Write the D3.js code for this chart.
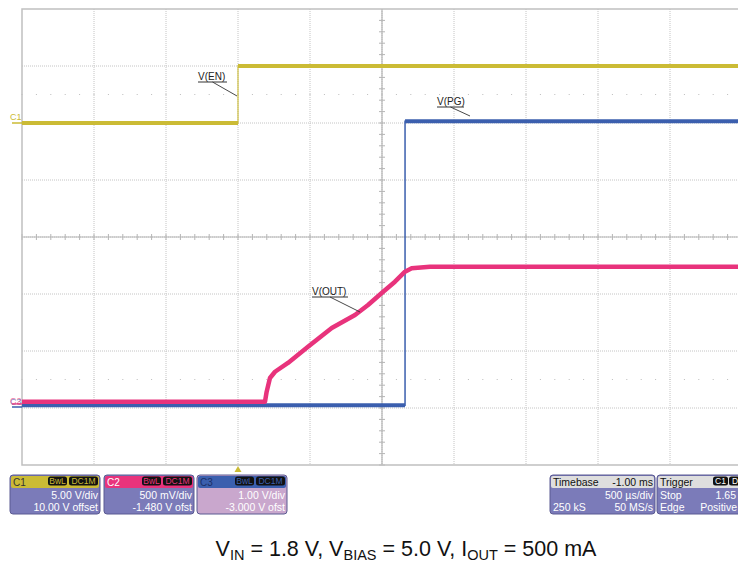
<!DOCTYPE html>
<html>
<head>
<meta charset="utf-8">
<script src="https://cdn.jsdelivr.net/npm/d3@7"></script>
<style>
  html, body { margin: 0; padding: 0; background: #fff; }
  svg { display: block; font-family: "Liberation Sans", Arial, sans-serif; }
</style>
</head>
<body>
<svg id="chart" width="738" height="563"></svg>
<script>
// ---- Data (time in ms, relative to trigger; voltages in V) ----
const enTimes  = [-1.5, 0.0, 0.0, 3.5];
const enVolts  = [0.0, 0.0, 5.0, 5.0];

const pgTimes  = [-1.5, 1.16, 1.16, 3.5];
const pgVolts  = [0.05, 0.05, 5.03, 5.03];

const outTimes = [-1.5, 0.1875, 0.199, 0.222, 0.257, 0.347, 0.486, 0.651, 0.8125, 0.903, 0.998, 1.09, 1.16, 1.206, 1.333, 3.5];
const outVolts = [0.035, 0.035, 0.123, 0.243, 0.298, 0.375, 0.518, 0.682, 0.796, 0.884, 0.989, 1.088, 1.176, 1.205, 1.22, 1.22];

// Channel settings
const channels = [
  { id: "C1", name: "V(EN)",  vdiv: 5.0, offset: 10.0,  color: "#cbbb35", times: enTimes,  volts: enVolts,
    line1: "5.00 V/div", line2: "10.00 V offset" },
  { id: "C2", name: "V(OUT)", vdiv: 0.5, offset: -1.48, color: "#e8337c", times: outTimes, volts: outVolts,
    line1: "500 mV/div", line2: "-1.480 V ofst" },
  { id: "C3", name: "V(PG)",  vdiv: 1.0, offset: -3.0,  color: "#3b5fae", times: pgTimes,  volts: pgVolts,
    line1: "1.00 V/div", line2: "-3.000 V ofst" }
];
const timebaseLines = ["Timebase", "-1.00 ms", "500 µs/div", "250 kS", "50 MS/s"];
const triggerLines  = ["Trigger", "Stop", "1.65", "Edge", "Positive"];

// ---- Layout ----
const svg = d3.select("#chart");
const plot = { left: 22, top: 9, right: 742, bottom: 465 };
const x = d3.scaleLinear().domain([-1.5, 3.5]).range([plot.left, plot.right]);
const yDiv = d3.scaleLinear().domain([-4, 4]).range([plot.bottom, plot.top]);
const toDiv = (ch, v) => (v + ch.offset) / ch.vdiv;

const g = svg.append("g");

// clip
svg.append("defs").append("clipPath").attr("id", "plotClip")
  .append("rect").attr("x", plot.left).attr("y", plot.top)
  .attr("width", plot.right - plot.left).attr("height", plot.bottom - plot.top);

// grid
const xDivs = d3.range(-1.5, 3.51, 0.5);
const yDivs = d3.range(-4, 4.01, 1);
const grid = g.append("g");
grid.selectAll("line.vx").data(xDivs.slice(1, -1)).join("line")
  .attr("x1", d => x(d)).attr("x2", d => x(d))
  .attr("y1", plot.top).attr("y2", plot.bottom)
  .attr("stroke", "#c4c4c4").attr("stroke-width", 1).attr("stroke-dasharray", "1,1");
grid.selectAll("line.hy").data(yDivs.slice(1, -1)).join("line")
  .attr("x1", plot.left).attr("x2", plot.right)
  .attr("y1", d => yDiv(d)).attr("y2", d => yDiv(d))
  .attr("stroke", "#c4c4c4").attr("stroke-width", 1).attr("stroke-dasharray", "1,1");

// dotted rows at ±2.5 div
const dotXs = d3.range(-1.5, 3.5, 0.1);
[2.5, -2.5].forEach(dv => {
  grid.selectAll(null).data(dotXs).join("rect")
    .attr("x", d => x(d) - 0.5).attr("y", yDiv(dv) - 0.5)
    .attr("width", 1).attr("height", 1).attr("fill", "#bdbdbd");
});

// center axes
const cx = x(1.0), cy = yDiv(0);
grid.append("line").attr("x1", cx).attr("x2", cx).attr("y1", plot.top).attr("y2", plot.bottom)
  .attr("stroke", "#b5b5b5").attr("stroke-width", 1.2);
grid.append("line").attr("x1", plot.left).attr("x2", plot.right).attr("y1", cy).attr("y2", cy)
  .attr("stroke", "#b5b5b5").attr("stroke-width", 1.2);
grid.selectAll(null).data(d3.range(-1.5, 3.5, 0.1)).join("line")
  .attr("x1", d => x(d)).attr("x2", d => x(d)).attr("y1", cy - 3).attr("y2", cy + 3)
  .attr("stroke", "#b5b5b5");
grid.selectAll(null).data(d3.range(-4, 4, 0.2)).join("line")
  .attr("x1", cx - 3).attr("x2", cx + 3).attr("y1", d => yDiv(d)).attr("y2", d => yDiv(d))
  .attr("stroke", "#b5b5b5");

// frame
g.append("path")
  .attr("d", `M${plot.right},${plot.top}H${plot.left}V${plot.bottom}H${plot.right}`)
  .attr("fill", "none").attr("stroke", "#c0c0c0").attr("stroke-width", 1.5);

// traces
const traces = g.append("g").attr("clip-path", "url(#plotClip)");
const order = [channels[0], channels[2], channels[1]];
order.forEach(ch => {
  const pts = ch.times.map((t, i) => [x(t), yDiv(toDiv(ch, ch.volts[i]))]);
  const line = d3.line();
  if (ch.id === "C2") {
    traces.append("path").attr("d", line(pts)).attr("fill", "none")
      .attr("stroke", ch.color).attr("stroke-width", 4.5).attr("stroke-linejoin", "round");
  } else {
    traces.append("path").attr("d", line(pts)).attr("fill", "none")
      .attr("stroke", ch.color).attr("stroke-width", 1.5).attr("stroke-opacity", ch.id === "C1" ? 0.75 : 1);
    for (let i = 0; i < pts.length - 1; i++) {
      if (pts[i][1] === pts[i + 1][1]) {
        traces.append("line")
          .attr("x1", pts[i][0]).attr("x2", pts[i + 1][0])
          .attr("y1", pts[i][1]).attr("y2", pts[i][1])
          .attr("stroke", ch.color).attr("stroke-width", 4);
      }
    }
  }
});

// annotations
function annot(text, tx, ty, ux1, ux2, uy, lx2, ly2) {
  g.append("text").attr("x", tx).attr("y", ty).text(text)
    .attr("font-size", 10).attr("fill", "#222");
  g.append("line").attr("x1", ux1).attr("x2", ux2).attr("y1", uy).attr("y2", uy)
    .attr("stroke", "#333").attr("stroke-width", 1);
  g.append("line").attr("x1", (ux1 + ux2) / 2).attr("x2", lx2).attr("y1", uy).attr("y2", ly2)
    .attr("stroke", "#333").attr("stroke-width", 0.9);
}
annot("V(EN)", 198, 80, 198, 227, 82, 237, 96);
annot("V(PG)", 437, 105, 437, 464, 107, 470, 116);
annot("V(OUT)", 312, 295, 312, 348, 297, 360, 312);

// channel markers at the left
g.append("text").attr("x", 10).attr("y", 120).text("C1").attr("font-size", 9).attr("fill", channels[0].color);
g.append("line").attr("x1", 12).attr("x2", plot.left).attr("y1", yDiv(toDiv(channels[0], 0)))
  .attr("y2", yDiv(toDiv(channels[0], 0))).attr("stroke", channels[0].color).attr("stroke-width", 1.5);
g.append("text").attr("x", 10).attr("y", 405).text("C3").attr("font-size", 9).attr("fill", channels[2].color).attr("fill-opacity", 0.7);
g.append("text").attr("x", 10).attr("y", 404).text("C2").attr("font-size", 9).attr("fill", channels[1].color).attr("fill-opacity", 0.7);
g.append("line").attr("x1", 12).attr("x2", plot.left).attr("y1", 407).attr("y2", 407)
  .attr("stroke", channels[2].color).attr("stroke-width", 1.5);
g.append("line").attr("x1", 12).attr("x2", plot.left).attr("y1", 404).attr("y2", 404)
  .attr("stroke", channels[1].color).attr("stroke-width", 1.2);

// trigger marker
const tx0 = x(0);
g.append("path").attr("d", `M${tx0 - 3.5},${472}L${tx0 + 3.5},${472}L${tx0},${466}Z`)
  .attr("fill", channels[0].color);

// ---- Info boxes ----
const boxY = 475, boxH = 39, headH = 12;
const chBoxX = [10, 104, 197], boxW = 90;
function badge(gg, txt, xr, y, w, color) {
  gg.append("rect").attr("x", xr - w).attr("y", y + 1.5).attr("width", w).attr("height", headH - 3)
    .attr("rx", 2.5).attr("fill", "#111");
  gg.append("text").attr("x", xr - w / 2).attr("y", y + headH - 3).attr("text-anchor", "middle")
    .attr("font-size", 8.5).attr("fill", color).text(txt);
}
channels.forEach((ch, i) => {
  const bx = chBoxX[i];
  const bg = g.append("g");
  const bodyColor = ch.id === "C3" ? "#c9a7cd" : "#7b7bb9";
  bg.append("rect").attr("x", bx).attr("y", boxY).attr("width", boxW).attr("height", boxH)
    .attr("rx", 3).attr("fill", bodyColor).attr("stroke", "#5b5a92").attr("stroke-width", 1);
  bg.append("rect").attr("x", bx + 1).attr("y", boxY + 1).attr("width", boxW - 2).attr("height", headH)
    .attr("rx", 2).attr("fill", ch.color);
  bg.append("text").attr("x", bx + 3).attr("y", boxY + headH - 1).text(ch.id)
    .attr("font-size", 10).attr("fill", ch.id === "C1" ? "#333" : (ch.id === "C2" ? "#fff" : "#1c2f66"));
  badge(bg, "DC1M", bx + boxW - 2, boxY, 29, ch.color);
  badge(bg, "BwL", bx + boxW - 33, boxY, 19, ch.color);
  bg.append("text").attr("x", bx + boxW - 2).attr("y", boxY + 24).attr("text-anchor", "end")
    .attr("font-size", 10.5).attr("fill", "#fff").text(ch.line1);
  bg.append("text").attr("x", bx + boxW - 2).attr("y", boxY + 36).attr("text-anchor", "end")
    .attr("font-size", 10.5).attr("fill", "#fff").text(ch.line2);
});

// timebase
(function () {
  const bx = 550, bw = 105;
  const bg = g.append("g");
  bg.append("rect").attr("x", bx).attr("y", boxY).attr("width", bw).attr("height", boxH)
    .attr("rx", 3).attr("fill", "#7b7bb9").attr("stroke", "#5b5a92");
  bg.append("rect").attr("x", bx + 1).attr("y", boxY + 1).attr("width", bw - 2).attr("height", headH)
    .attr("rx", 2).attr("fill", "#dedede");
  bg.append("text").attr("x", bx + 3).attr("y", boxY + headH - 1).attr("font-size", 10.5).attr("fill", "#111").text(timebaseLines[0]);
  bg.append("text").attr("x", bx + bw - 2).attr("y", boxY + headH - 1).attr("text-anchor", "end").attr("font-size", 10.5).attr("fill", "#111").text(timebaseLines[1]);
  bg.append("text").attr("x", bx + bw - 2).attr("y", boxY + 24).attr("text-anchor", "end").attr("font-size", 10.5).attr("fill", "#fff").text(timebaseLines[2]);
  bg.append("text").attr("x", bx + 3).attr("y", boxY + 36).attr("font-size", 10.5).attr("fill", "#fff").text(timebaseLines[3]);
  bg.append("text").attr("x", bx + bw - 2).attr("y", boxY + 36).attr("text-anchor", "end").attr("font-size", 10.5).attr("fill", "#fff").text(timebaseLines[4]);
})();

// trigger
(function () {
  const bx = 657, bw = 95;
  const bg = g.append("g");
  bg.append("rect").attr("x", bx).attr("y", boxY).attr("width", bw).attr("height", boxH)
    .attr("rx", 3).attr("fill", "#7b7bb9").attr("stroke", "#5b5a92");
  bg.append("rect").attr("x", bx + 1).attr("y", boxY + 1).attr("width", bw - 2).attr("height", headH)
    .attr("rx", 2).attr("fill", "#dedede");
  bg.append("text").attr("x", bx + 3).attr("y", boxY + headH - 1).attr("font-size", 10.5).attr("fill", "#111").text(triggerLines[0]);
  badge(bg, "C1", 728, boxY, 15, "#fff");
  badge(bg, "D", 741, boxY, 12, "#fff");
  bg.append("text").attr("x", bx + 3).attr("y", boxY + 24).attr("font-size", 10.5).attr("fill", "#fff").text(triggerLines[1]);
  bg.append("text").attr("x", 736).attr("y", boxY + 24).attr("text-anchor", "end").attr("font-size", 10.5).attr("fill", "#fff").text(triggerLines[2]);
  bg.append("text").attr("x", bx + 3).attr("y", boxY + 36).attr("font-size", 10.5).attr("fill", "#fff").text(triggerLines[3]);
  bg.append("text").attr("x", 737).attr("y", boxY + 36).attr("text-anchor", "end").attr("font-size", 10.5).attr("fill", "#fff").text(triggerLines[4]);
})();

// caption
const cap = svg.append("text").attr("x", 406).attr("y", 556).attr("text-anchor", "middle")
  .attr("font-size", 21.5).attr("fill", "#111");
const parts = [["V", 0], ["IN", 1], [" = 1.8 V, V", 0], ["BIAS", 1], [" = 5.0 V, I", 0], ["OUT", 1], [" = 500 mA", 0]];
parts.forEach(([t, sub], i) => {
  const ts = cap.append("tspan").text(t);
  if (sub) ts.attr("font-size", 14.5).attr("dy", 4);
  else if (i > 0) ts.attr("dy", -4);
});
</script>
</body>
</html>
